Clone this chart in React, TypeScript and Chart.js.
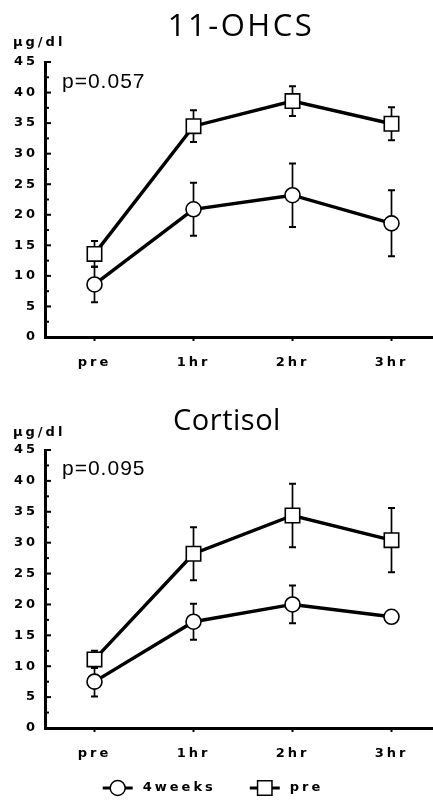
import { useEffect, useRef } from 'react';
import { Chart, registerables } from 'chart.js';

Chart.register(...registerables);

// ---- data ----
const categories = ['pre', '1hr', '2hr', '3hr'];
const seriesLabels = ['4weeks', 'pre'];

const ohcs4weeks = [8.6, 20.9, 23.2, 18.6];
const ohcs4weeksErr = [2.9, 4.35, 5.2, 5.4];
const ohcsPre = [13.6, 34.5, 38.6, 34.9];
const ohcsPreErr = [2.1, 2.6, 2.45, 2.7];

const cort4weeks = [7.5, 17.2, 20.0, 18.0];
const cort4weeksErr = [2.4, 2.9, 3.05, 0.4];
const cortPre = [11.1, 28.2, 34.4, 30.4];
const cortPreErr = [1.4, 4.3, 5.15, 5.2];

const yMin = 0;
const yMax = 45;
const yMajorStep = 5;
const yMinorStep = 2.5;
const unitLabel = 'μg/dl';

type Panel = {
  title: string;
  titleSize: number;
  titleSpacing: string;
  titleCenter: number;
  titleBaseline: number;
  pText: string;
  d4: number[];
  e4: number[];
  dp: number[];
  ep: number[];
  padTop: number;
  padBottom: number;
  unitOffset: number;
  pOffset: number;
  legend: boolean;
  legendY: number;
};

const errorBarPlugin = {
  id: 'errorBars',
  beforeDatasetsDraw(chart: any) {
    const ctx = chart.ctx;
    const xs = chart.scales.x;
    const ys = chart.scales.y;
    ctx.save();
    ctx.strokeStyle = '#000';
    chart.data.datasets.forEach((ds: any) => {
      (ds.data as number[]).forEach((v, i) => {
        const e = ds.errors[i];
        const px = xs.getPixelForValue(i);
        const top = ys.getPixelForValue(v + e);
        const bot = ys.getPixelForValue(v - e);
        ctx.lineWidth = 1.7;
        ctx.beginPath();
        ctx.moveTo(px, top);
        ctx.lineTo(px, bot);
        ctx.stroke();
        ctx.lineWidth = 2;
        ctx.beginPath();
        ctx.moveTo(px - 3.5, top);
        ctx.lineTo(px + 3.5, top);
        ctx.moveTo(px - 3.5, bot);
        ctx.lineTo(px + 3.5, bot);
        ctx.stroke();
      });
    });
    ctx.restore();
  },
};

// the source axis runs a little past the right edge of the picture
const stretchXPlugin = {
  id: 'stretchX',
  afterLayout(chart: any) {
    const s = chart.scales.x;
    if (s && typeof s.configure === 'function') {
      s.right = s.right + 9;
      s.width = s.right - s.left;
      s.configure();
    }
  },
};

function drawMarker(ctx: CanvasRenderingContext2D, style: string, radius: number, x: number, y: number) {
  ctx.beginPath();
  if (style === 'rect') {
    const h = radius * Math.SQRT1_2;
    ctx.rect(x - h, y - h, 2 * h, 2 * h);
  } else {
    ctx.arc(x, y, radius, 0, Math.PI * 2);
  }
  ctx.fillStyle = '#fff';
  ctx.fill();
  ctx.lineWidth = 1.5;
  ctx.strokeStyle = '#000';
  ctx.stroke();
}

function makeDecor(p: Panel) {
  return {
    id: 'decor',
    beforeDraw(chart: any) {
      chart.ctx.letterSpacing = '3px';
    },
    afterDraw(chart: any) {
      const ctx = chart.ctx;
      const area = chart.chartArea;
      const ys = chart.scales.y;
      ctx.save();
      // inward y ticks
      ctx.strokeStyle = '#000';
      ctx.lineWidth = 2;
      ys.ticks.forEach((t: any) => {
        const py = ys.getPixelForValue(t.value);
        const len = t.value % yMajorStep === 0 ? 6 : 4;
        ctx.beginPath();
        ctx.moveTo(area.left, py);
        ctx.lineTo(area.left + len, py);
        ctx.stroke();
      });
      ctx.fillStyle = '#000';
      // title
      ctx.letterSpacing = p.titleSpacing;
      ctx.font = `${p.titleSize}px "Open Sans"`;
      ctx.textAlign = 'left';
      ctx.textBaseline = 'alphabetic';
      const tw = ctx.measureText(p.title).width;
      ctx.fillText(p.title, p.titleCenter - tw / 2, p.titleBaseline);
      // unit
      ctx.letterSpacing = '3px';
      ctx.font = 'bold 13px "DejaVu Sans"';
      ctx.textBaseline = 'middle';
      ctx.fillText(unitLabel, 13, area.top - p.unitOffset);
      // p-value
      ctx.letterSpacing = '1px';
      ctx.font = '21px "Liberation Sans"';
      ctx.fillText(p.pText, 62, area.top + p.pOffset);
      // legend
      if (p.legend) {
        ctx.letterSpacing = '3px';
        ctx.font = 'bold 13px "DejaVu Sans"';
        const sample = 30;
        const gapText = 10;
        const gapItem = 34;
        const items = chart.data.datasets.map((ds: any) => ({
          label: ds.label,
          style: ds.pointStyle,
          radius: ds.pointRadius,
          w: ctx.measureText(ds.label).width,
        }));
        const total = items.reduce((s: number, it: any) => s + sample + gapText + it.w, 0) + gapItem * (items.length - 1);
        let x = 213 - total / 2;
        const y = p.legendY;
        items.forEach((it: any) => {
          ctx.strokeStyle = '#000';
          ctx.lineWidth = 3;
          ctx.beginPath();
          ctx.moveTo(x, y);
          ctx.lineTo(x + sample, y);
          ctx.stroke();
          drawMarker(ctx, it.style, it.radius, x + sample / 2, y);
          ctx.fillStyle = '#000';
          ctx.textBaseline = 'middle';
          ctx.fillText(it.label, x + sample + gapText, y);
          x += sample + gapText + it.w + gapItem;
        });
      }
      ctx.restore();
      ctx.letterSpacing = '0px';
    },
  };
}

const tickFont = { family: 'DejaVu Sans', size: 13, weight: 'bold' as const };

function buildChart(canvas: HTMLCanvasElement, p: Panel) {
  return new Chart(canvas, {
    type: 'line',
    data: {
      labels: categories,
      datasets: [
        {
          label: seriesLabels[0],
          data: p.d4,
          errors: p.e4,
          borderColor: '#000',
          borderWidth: 3.4,
          pointStyle: 'circle',
          pointRadius: 7.5,
          pointBorderWidth: 1.6,
          pointBackgroundColor: '#fff',
          pointBorderColor: '#000',
          tension: 0,
        } as any,
        {
          label: seriesLabels[1],
          data: p.dp,
          errors: p.ep,
          borderColor: '#000',
          borderWidth: 3.4,
          pointStyle: 'rect',
          pointRadius: 10.2,
          pointBorderWidth: 1.6,
          pointBackgroundColor: '#fff',
          pointBorderColor: '#000',
          tension: 0,
        } as any,
      ],
    },
    options: {
      responsive: false,
      animation: false,
      devicePixelRatio: 1,
      events: [],
      layout: { autoPadding: false, padding: { top: p.padTop, bottom: p.padBottom, left: 0, right: 1 } },
      plugins: {
        legend: { display: false },
        tooltip: { enabled: false },
        title: { display: false },
      },
      scales: {
        x: {
          type: 'category',
          offset: true,
          afterFit(s: any) {
            s.height = 40;
            s.paddingLeft = 0;
            s.paddingRight = 0;
          },
          grid: {
            display: true,
            drawOnChartArea: false,
            drawTicks: true,
            tickLength: 4,
            tickWidth: 2,
            tickColor: '#000',
            offset: false,
          },
          border: { display: true, color: '#000', width: 3 },
          ticks: { color: '#000', font: tickFont, padding: 13.5, autoSkip: false, maxRotation: 0 },
        },
        y: {
          min: yMin,
          max: yMax,
          afterFit(s: any) {
            s.width = 45;
          },
          grid: { display: true, drawOnChartArea: false, drawTicks: false },
          border: { display: true, color: '#000', width: 3 },
          ticks: {
            stepSize: yMinorStep,
            autoSkip: false,
            padding: 7,
            color: '#000',
            font: tickFont,
            callback: (v: any) => (Number(v) % yMajorStep === 0 ? String(v) : ''),
          },
        },
      } as any,
    },
    plugins: [stretchXPlugin, errorBarPlugin, makeDecor(p)],
  });
}

const topPanel: Panel = {
  title: '11-OHCS',
  titleSize: 31,
  titleSpacing: '2.5px',
  titleCenter: 241,
  titleBaseline: 36,
  pText: 'p=0.057',
  d4: ohcs4weeks,
  e4: ohcs4weeksErr,
  dp: ohcsPre,
  ep: ohcsPreErr,
  padTop: 62,
  padBottom: 3,
  unitOffset: 19,
  pOffset: 20,
  legend: false,
  legendY: 0,
};

const bottomPanel: Panel = {
  title: 'Cortisol',
  titleSize: 29,
  titleSpacing: '0.5px',
  titleCenter: 227,
  titleBaseline: 50,
  pText: 'p=0.095',
  d4: cort4weeks,
  e4: cort4weeksErr,
  dp: cortPre,
  ep: cortPreErr,
  padTop: 70,
  padBottom: 33,
  unitOffset: 17,
  pOffset: 19,
  legend: true,
  legendY: 408,
};

export default function App() {
  const topRef = useRef<HTMLCanvasElement>(null);
  const botRef = useRef<HTMLCanvasElement>(null);

  useEffect(() => {
    const c1 = buildChart(topRef.current!, topPanel);
    const c2 = buildChart(botRef.current!, bottomPanel);
    return () => {
      c1.destroy();
      c2.destroy();
    };
  }, []);

  return (
    <div style={{ position: 'absolute', left: 0, top: 0, width: 433, height: 801, background: '#fff' }}>
      <canvas ref={topRef} width={433} height={380} style={{ display: 'block', width: 433, height: 380 }} />
      <canvas ref={botRef} width={433} height={421} style={{ display: 'block', width: 433, height: 421 }} />
    </div>
  );
}
